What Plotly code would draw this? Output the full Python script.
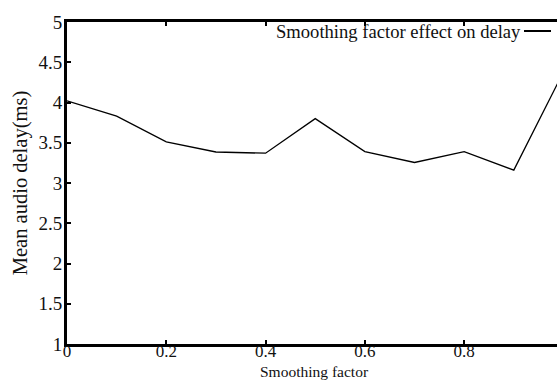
import plotly.graph_objects as go

smoothing = [0.0, 0.1, 0.2, 0.3, 0.4, 0.5, 0.6, 0.7, 0.8, 0.9, 1.0]
delay_ms = [4.02, 3.83, 3.51, 3.385, 3.37, 3.80, 3.39, 3.255, 3.39, 3.16, 4.38]
x_ticks = [0, 0.2, 0.4, 0.6, 0.8, 1.0]
x_tick_labels = ["0", "0.2", "0.4", "0.6", "0.8", "1"]
y_ticks = [1, 1.5, 2, 2.5, 3, 3.5, 4, 4.5, 5]
y_tick_labels = ["1", "1.5", "2", "2.5", "3", "3.5", "4", "4.5", "5"]
series_name = "Smoothing factor effect on delay"
x_title = "Smoothing factor"
y_title = "Mean audio delay(ms)"

FONT = "Liberation Serif"
TOP, BOTTOM, LEFT, W, H = 22, 38, 67, 557, 382
PH = H - TOP - BOTTOM
PW = W - LEFT

fig = go.Figure()
fig.add_trace(go.Scatter(x=smoothing, y=delay_ms, mode="lines",
                         line=dict(color="black", width=1.3),
                         name=series_name, showlegend=False))

# legend (text with line sample on its right)
leg_y = (H - BOTTOM - 31) / PH
fig.add_annotation(xref="paper", yref="paper", x=(523 - LEFT) / PW, y=leg_y,
                   xanchor="right", yanchor="middle", text=series_name, showarrow=False,
                   font=dict(family=FONT, size=18.6, color="#111"))
fig.add_shape(type="line", xref="paper", yref="paper",
              x0=(524 - LEFT) / PW, x1=(551 - LEFT) / PW, y0=leg_y, y1=leg_y,
              line=dict(color="black", width=2))

# x-axis title at the bottom edge
fig.add_annotation(xref="paper", yref="paper", x=(314 - LEFT) / PW, y=-BOTTOM / PH,
                   xanchor="center", yanchor="bottom", text=x_title, showarrow=False,
                   font=dict(family=FONT, size=15.5, color="#111"))

fig.update_layout(
    width=W, height=H,
    margin=dict(l=LEFT, r=0, t=TOP, b=BOTTOM),
    paper_bgcolor="white", plot_bgcolor="white",
    font=dict(family=FONT, size=18, color="#111"),
    showlegend=False,
)
fig.update_xaxes(range=[0, 0.987], tickvals=x_ticks, ticktext=x_tick_labels,
                 tickfont=dict(family=FONT, size=17, color="#111"),
                 ticklabelstandoff=-10, automargin=False,
                 showline=True, linecolor="black", linewidth=3, mirror="ticks",
                 ticks="inside", ticklen=4, tickwidth=2, tickcolor="black",
                 showgrid=False, zeroline=False)
fig.update_yaxes(range=[1, 5], tickvals=y_ticks, ticktext=y_tick_labels,
                 tickfont=dict(family=FONT, size=19, color="#111"),
                 ticklabelstandoff=-2, automargin=False,
                 showline=True, linecolor="black", linewidth=3, mirror=False,
                 ticks="inside", ticklen=4, tickwidth=2, tickcolor="black",
                 showgrid=False, zeroline=False,
                 title=dict(text=y_title, standoff=6,
                            font=dict(family=FONT, size=20.5, color="#111")))

fig.write_html("out.html")
